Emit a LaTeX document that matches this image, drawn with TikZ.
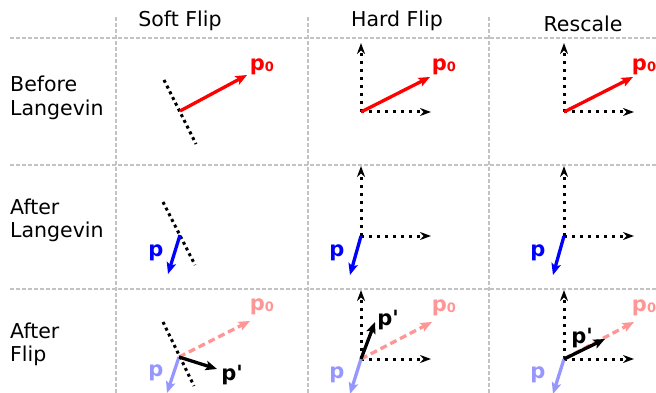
\documentclass[tikz,border=0pt]{standalone}
\usepackage{fontspec}
\setmainfont{DejaVu Sans}
\usetikzlibrary{arrows.meta}
\definecolor{gridgray}{RGB}{195,195,195}
\definecolor{lightred}{RGB}{255,150,150}
\definecolor{lightblue}{RGB}{150,150,255}
\tikzset{
  x=1pt, y=-1pt,
  gridline/.style={gridgray, line width=1.2pt, dash pattern=on 4pt off 2pt},
  head/.style={font=\fontsize{20.5}{24}\selectfont, inner sep=0pt, anchor=base},
  rowlab/.style={font=\fontsize{20.5}{24}\selectfont, inner sep=0pt, anchor=base west},
  wall/.style={black, line width=3pt, dash pattern=on 3pt off 3.4pt},
  axis/.style={black, line width=3pt, dash pattern=on 3pt off 5pt,
    -{Stealth[length=11pt,width=8pt,inset=3.5pt]}},
  vec/.style={line width=3.3pt, -{Stealth[length=11.5pt,width=9.5pt,inset=2.5pt]}},
  dvec/.style={vec, dash pattern=on 7pt off 4pt},
  vlab/.style={font=\fontsize{21}{21}\selectfont\bfseries, inner sep=0pt},
}
\newcommand{\pzero}{p\raisebox{-1pt}{\fontsize{13}{13}\selectfont 0}}
\newcommand{\pprime}{p\textquotesingle}
\begin{document}
\begin{tikzpicture}
\useasboundingbox (0,0) rectangle (656,393);
% grid
\coordinate (h1a) at (10,38);  \coordinate (h1b) at (656,38);
\coordinate (h2a) at (10,165); \coordinate (h2b) at (656,165);
\coordinate (h3a) at (10,289); \coordinate (h3b) at (656,289);
\coordinate (v1a) at (116,17); \coordinate (v1b) at (116,393);
\coordinate (v2a) at (308,17); \coordinate (v2b) at (308,393);
\coordinate (v3a) at (489,17); \coordinate (v3b) at (489,393);
\draw[gridline] (h1a) -- (h1b);
\draw[gridline] (h2a) -- (h2b);
\draw[gridline] (h3a) -- (h3b);
\draw[gridline] (v1a) -- (v1b);
\draw[gridline] (v2a) -- (v2b);
\draw[gridline] (v3a) -- (v3b);
% headers
\node[head] (hsoft) at (180,27) {Soft Flip};
\node[head] (hhard) at (397,27) {Hard Flip};
\node[head] (hres) at (583,32) {Rescale};
% row labels
\node[rowlab] (r1a) at (10,92) {Before};
\node[rowlab] (r1b) at (10,115.5) {Langevin};
\node[rowlab] (r2a) at (10,214) {After};
\node[rowlab] (r2b) at (10,237.5) {Langevin};
\node[rowlab] (r3a) at (10,338) {After};
\node[rowlab] (r3b) at (10,361.5) {Flip};

% ---- Row 1: Before Langevin
% soft
\coordinate (w1a) at (164,80); \coordinate (w1b) at (196,144);
\coordinate (o1s) at (180,111); \coordinate (e1s) at (247,75);
\draw[wall] (w1a) -- (w1b);
\draw[vec, red] (o1s) -- (e1s);
\node[vlab, red] (l1s) at (262,67) {\pzero};
% hard
\coordinate (o1h) at (361,112);
\coordinate (u1h) at (361,43); \coordinate (r1h) at (431,112);
\coordinate (e1h) at (430,77);
\draw[axis] (o1h) -- (u1h);
\draw[axis] (o1h) -- (r1h);
\draw[vec, red] (o1h) -- (e1h);
\node[vlab, red] (l1h) at (444,67) {\pzero};
% rescale
\coordinate (o1r) at (564,112);
\coordinate (u1r) at (564,43); \coordinate (r1r) at (634,112);
\coordinate (e1r) at (633,77);
\draw[axis] (o1r) -- (u1r);
\draw[axis] (o1r) -- (r1r);
\draw[vec, red] (o1r) -- (e1r);
\node[vlab, red] (l1r) at (644,67) {\pzero};

% ---- Row 2: After Langevin
% soft
\coordinate (w2a) at (163,202); \coordinate (w2b) at (195,265);
\coordinate (o2s) at (180,235); \coordinate (e2s) at (168,274);
\draw[wall] (w2a) -- (w2b);
\draw[vec, blue] (o2s) -- (e2s);
\node[vlab, blue] (l2s) at (156,253) {p};
% hard
\coordinate (o2h) at (361,236);
\coordinate (u2h) at (361,166); \coordinate (r2h) at (431,236);
\coordinate (e2h) at (350,275);
\draw[axis] (o2h) -- (u2h);
\draw[axis] (o2h) -- (r2h);
\draw[vec, blue] (o2h) -- (e2h);
\node[vlab, blue] (l2h) at (337,253) {p};
% rescale
\coordinate (o2r) at (564,236);
\coordinate (u2r) at (564,166); \coordinate (r2r) at (634,236);
\coordinate (e2r) at (553,275);
\draw[axis] (o2r) -- (u2r);
\draw[axis] (o2r) -- (r2r);
\draw[vec, blue] (o2r) -- (e2r);
\node[vlab, blue] (l2r) at (538,253) {p};

% ---- Row 3: After Flip
% soft
\coordinate (w3a) at (163,322); \coordinate (w3b) at (194,386);
\coordinate (o3s) at (179,357);
\coordinate (p3s) at (250,321); \coordinate (q3s) at (217,369);
\coordinate (b3s) at (167,393);
\draw[wall] (w3a) -- (w3b);
\draw[dvec, lightred] (o3s) -- (p3s);
\draw[vec, lightblue] (o3s) -- (b3s);
\draw[vec, black] (o3s) -- (q3s);
\node[vlab, lightred] (l3s0) at (262,307) {\pzero};
\node[vlab, black] (l3sq) at (232,375) {\pprime};
\node[vlab, lightblue] (l3sp) at (156,373) {p};
% hard
\coordinate (o3h) at (361,359);
\coordinate (u3h) at (361,290); \coordinate (r3h) at (431,359);
\coordinate (p3h) at (432,322); \coordinate (q3h) at (375,322);
\coordinate (b3h) at (350,394);
\draw[axis] (o3h) -- (u3h);
\draw[axis] (o3h) -- (r3h);
\draw[dvec, lightred] (o3h) -- (p3h);
\draw[vec, lightblue] (o3h) -- (b3h);
\draw[vec, black] (o3h) -- (q3h);
\node[vlab, lightred] (l3h0) at (444,308) {\pzero};
\node[vlab, black] (l3hq) at (388,320) {\pprime};
\node[vlab, lightblue] (l3hp) at (337,375) {p};
% rescale
\coordinate (o3r) at (564,359);
\coordinate (u3r) at (564,290); \coordinate (r3r) at (634,359);
\coordinate (p3r) at (634,322); \coordinate (q3r) at (605,339);
\coordinate (b3r) at (553,394);
\draw[axis] (o3r) -- (u3r);
\draw[axis] (o3r) -- (r3r);
\draw[dvec, lightred] (o3r) -- (p3r);
\draw[vec, lightblue] (o3r) -- (b3r);
\draw[vec, black] (o3r) -- (q3r);
\node[vlab, lightred] (l3r0) at (644,308) {\pzero};
\node[vlab, black] (l3rq) at (582,338) {\pprime};
\node[vlab, lightblue] (l3rp) at (538,375) {p};
\end{tikzpicture}
\end{document}
